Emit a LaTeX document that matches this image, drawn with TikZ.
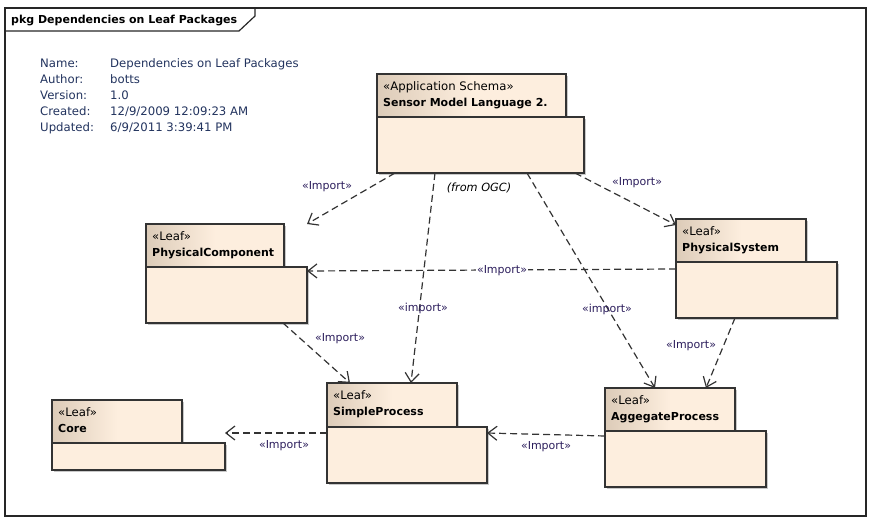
\documentclass[tikz,border=0pt]{standalone}
\usepackage{fontspec}
\setmainfont{DejaVu Sans}
\usetikzlibrary{arrows.meta,shadows,calc}
\definecolor{pkgfill}{HTML}{FDEEDE}
\definecolor{tabdark}{HTML}{DCCBB8}
\definecolor{edgecol}{HTML}{333333}
\definecolor{infocol}{HTML}{22335E}
\definecolor{lblcol}{HTML}{2C1E5C}
\tikzset{
  pkgpart/.style={draw=black!80, line width=1.25pt, anchor=north west, inner sep=0pt, outer sep=0pt,
    drop shadow={shadow xshift=2pt, shadow yshift=-2pt, fill=black!30, opacity=0.7}},
  tabpart/.style={pkgpart, left color=tabdark, right color=pkgfill, middle color=pkgfill},
  bodypart/.style={pkgpart, fill=pkgfill},
  dep/.style={draw=edgecol, line width=1.2pt, dash pattern=on 7pt off 4pt,
    -{Straight Barb[length=9pt,width=14pt,line width=1.2pt]}},
  lbl/.style={font=\fontsize{11}{13}\selectfont, text=lblcol, inner sep=1pt},
  stereo/.style={anchor=base west, font=\fontsize{11.7}{13}\selectfont, inner sep=0pt},
  pname/.style={anchor=base west, font=\fontsize{11}{13}\selectfont\bfseries, inner sep=0pt},
}
\newcommand\pkg[9]{%
  \node[tabpart, minimum width={#4pt-#2pt}, minimum height={#5pt-#3pt}] (#1T) at (#2,#3) {};
  \node[bodypart, minimum width={#6pt-#2pt}, minimum height={#7pt-#5pt}] (#1) at (#2,#5) {};
  \node[stereo] (#1S) at ([xshift=6pt,yshift=-16pt]#1T.north west) {«#8»};
  \node[pname] (#1N) at ([xshift=6pt,yshift=-32pt]#1T.north west) {#9};
}
\begin{document}
\begin{tikzpicture}[x=1pt,y=-1pt]
\useasboundingbox (0,0) rectangle (875,525);
% frame
\draw[line width=1.4pt, draw=black!85] (5,8) rectangle (866,516);
\draw[line width=1.2pt, draw=black!85] (5,31) -- (239,31) -- (255,16) -- (255,8);
\node[anchor=base west, inner sep=0pt, font=\fontsize{11}{13}\selectfont\bfseries] (title) at (11,23) {pkg Dependencies on Leaf Packages};
% info
\node[anchor=north west, inner sep=0pt, text=infocol, font=\fontsize{11.7}{16}\selectfont] (info) at (40,56)
 {\begin{tabular}{@{}p{70pt}@{}l@{}}
  Name: & Dependencies on Leaf Packages\\
  Author: & botts\\
  Version: & 1.0\\
  Created: & 12/9/2009 12:09:23 AM\\
  Updated: & 6/9/2011 3:39:41 PM
 \end{tabular}};
% packages
\pkg{sml}{377}{74}{566}{117}{584}{173}{Application Schema}{Sensor Model Language 2.}
\pkg{pc}{146}{224}{284}{267}{307}{323}{Leaf}{PhysicalComponent}
\pkg{ps}{676}{219}{806}{262}{837}{318}{Leaf}{PhysicalSystem}
\pkg{core}{52}{400}{182}{443}{225}{470}{Leaf}{Core}
\pkg{sp}{327}{383}{457}{427}{487}{483}{Leaf}{SimpleProcess}
\pkg{ap}{605}{388}{735}{431}{766}{487}{Leaf}{AggegateProcess}
\node[font=\fontsize{11.3}{13}\selectfont\itshape, inner sep=0pt] (from) at (479,188) {(from OGC)};
% dependencies
\draw[dep] ([xshift=18pt]sml.south west) -- (pc.east |- pcT.north);
\draw[dep] ([xshift=58pt]sml.south west) -- ([xshift=84pt]spT.north west);
\draw[dep] ([xshift=150pt]sml.south west) -- ([xshift=50pt]apT.north west);
\draw[dep] ([xshift=198pt]sml.south west) -- ([yshift=-6pt]psT.north west);
\draw[dep] ([yshift=-7pt]ps.north west) -- ([yshift=-4pt]pc.north east);
\draw[dep] ([xshift=-24pt]pc.south east) -- ([xshift=23pt]spT.north west);
\draw[dep] ([xshift=-102pt]ps.south east) -- ([xshift=101pt]apT.north west);
\draw[dep] ([yshift=-6pt]sp.north west) -- ([yshift=10pt]core.north east);
\draw[dep] ([yshift=-5pt]ap.north west) -- ([yshift=-6pt]sp.north east);
% labels
\node[lbl] (l1) at (327,187) {«Import»};
\node[lbl] (l2) at (423,308) {«import»};
\node[lbl] (l3) at (607,309) {«import»};
\node[lbl] (l4) at (637,183) {«Import»};
\node[lbl, fill=white] (l5) at (502,271) {«Import»};
\node[lbl] (l6) at (340,339) {«Import»};
\node[lbl] (l7) at (691,346) {«Import»};
\node[lbl] (l8) at (284,446) {«Import»};
\node[lbl] (l9) at (546,447) {«Import»};
\end{tikzpicture}
\end{document}
